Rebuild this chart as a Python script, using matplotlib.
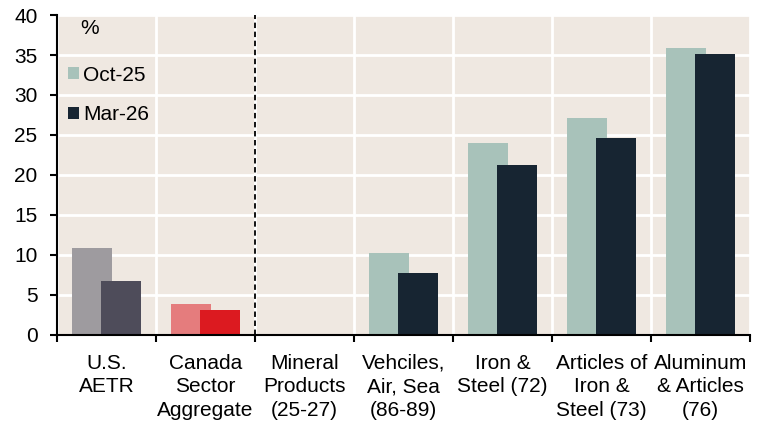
import numpy as np
import matplotlib
matplotlib.use("Agg")
import matplotlib.pyplot as plt

plt.rcParams['font.family'] = ['Liberation Sans', 'DejaVu Sans']

# Data (%)
categories = ["U.S.\nAETR", "Canada\nSector\nAggregate", "Mineral\nProducts\n(25-27)",
              "Vehciles,\nAir, Sea\n(86-89)", "Iron &\nSteel (72)",
              "Articles of\nIron &\nSteel (73)", "Aluminum\n& Articles\n(76)"]
oct25 = [10.9, 3.9, 0.0, 10.25, 24.0, 27.1, 35.9]
mar26 = [6.75, 3.1, 0.0, 7.75, 21.25, 24.6, 35.1]
series_labels = ["Oct-25", "Mar-26"]

oct_colors = ["#9e9b9f", "#e57c7d"] + ["#a8c2ba"] * 5
mar_colors = ["#4e4c5a", "#dc1a20"] + ["#172532"] * 5

fig = plt.figure(figsize=(7.64, 4.25), dpi=100)
ax = fig.add_axes([0.0746, 0.2118, 0.9071, 0.7529])
ax.set_facecolor("#efe8e1")

x = np.arange(len(categories))
w = 0.404
b1 = ax.bar(x - 0.15, oct25, w, color=oct_colors, zorder=3)
b2 = ax.bar(x + 0.15, mar26, w, color=mar_colors, zorder=4)

ax.set_xlim(-0.5, len(categories) - 0.5)
ax.set_ylim(0, 40)
ax.set_yticks(np.arange(0, 41, 5))

# boundaries as major ticks, labels on minor ticks at the centres
ax.set_xticks(np.arange(-0.5, len(categories), 1.0))
ax.set_xticklabels([])
ax.set_xticks(x, minor=True)
ax.set_xticklabels(categories, minor=True, fontsize=15, linespacing=1.3)
ax.tick_params(axis='x', which='minor', length=0, pad=13.5)
ax.tick_params(axis='x', which='major', length=5, width=1.5, direction='out')
ax.tick_params(axis='y', length=5, width=1.5, labelsize=15, pad=9)

ax.grid(True, which='major', color='white', linewidth=2, zorder=1)
ax.set_axisbelow(True)
ax.axvline(1.5, color='black', linestyle='--', linewidth=1.3, dashes=(3, 2), zorder=5)

for s in ["top", "right"]:
    ax.spines[s].set_visible(False)
for s in ["left", "bottom"]:
    ax.spines[s].set_linewidth(1.5)
    ax.spines[s].set_zorder(6)

ax.text(0.033, 0.959, "%", transform=ax.transAxes, fontsize=15, va="center", ha="left")
ax.legend([b1[3], b2[3]], series_labels, loc="upper left", bbox_to_anchor=(0.0159, 0.842),
          frameon=False, fontsize=15, handlelength=0.53, handleheight=0.53,
          handletextpad=0.2, labelspacing=1.0, borderpad=0, borderaxespad=0)

fig.savefig("out.png", dpi=100)
